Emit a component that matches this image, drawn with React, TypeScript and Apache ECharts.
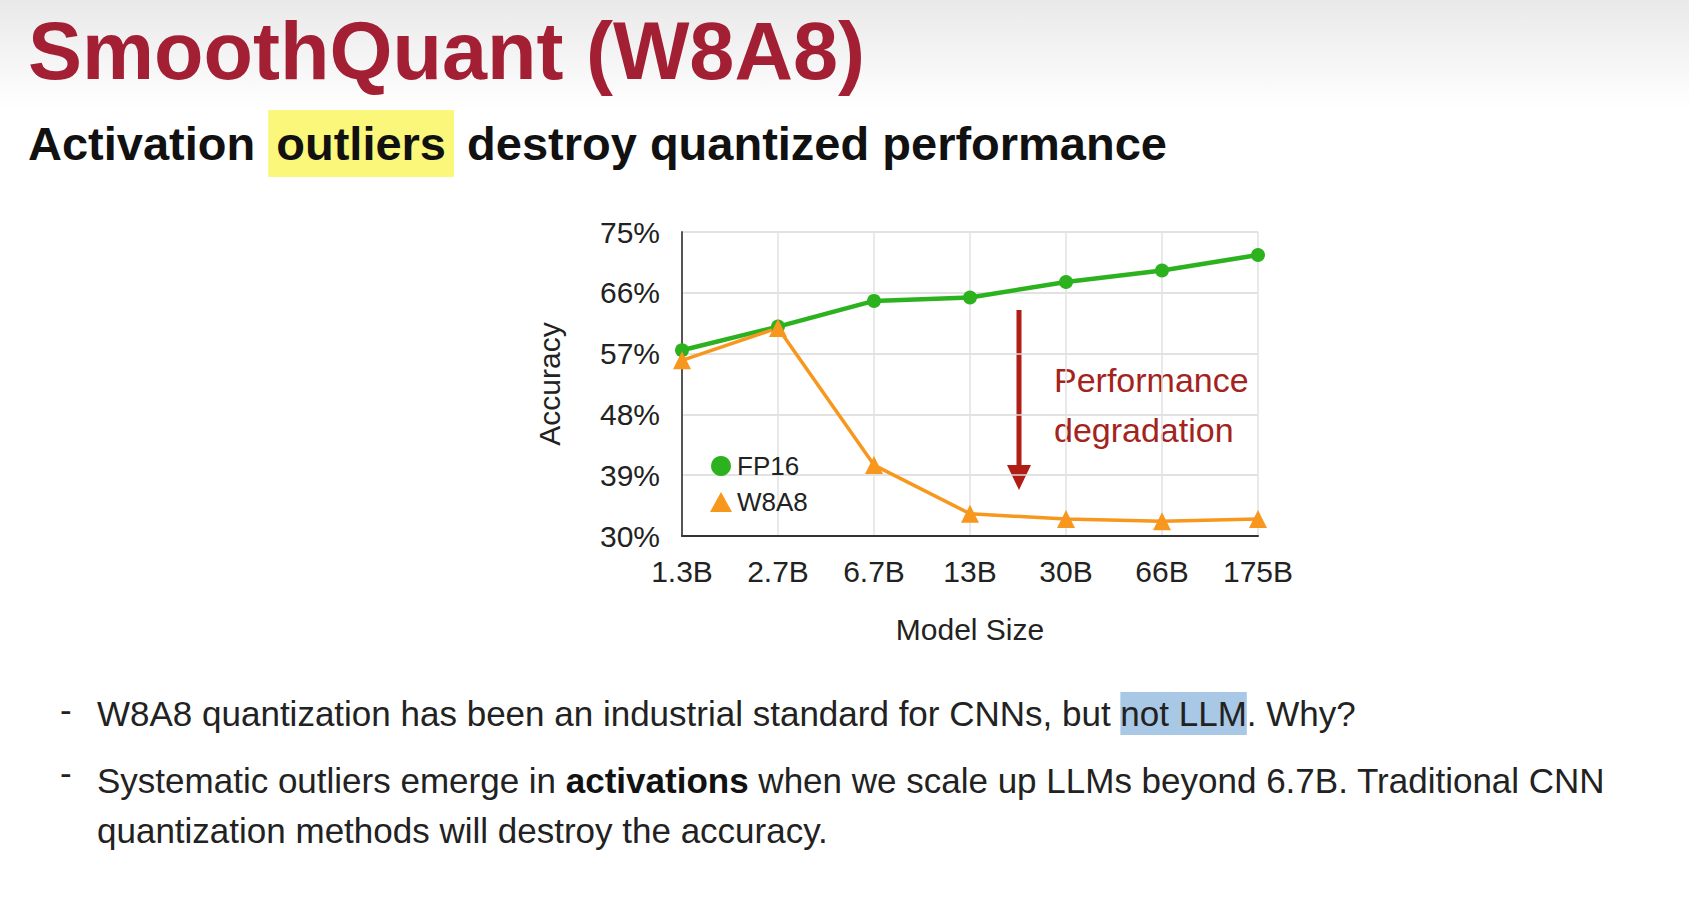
import * as echarts from "echarts";
import { useEffect, useRef } from "react";

const modelSizes = ["1.3B", "2.7B", "6.7B", "13B", "30B", "66B", "175B"];
const fp16 = [57.5, 61, 64.8, 65.3, 67.6, 69.3, 71.6];
const w8a8 = [56, 60.8, 40.5, 33.3, 32.5, 32.2, 32.5];
const yTicks = [30, 39, 48, 57, 66, 75];

const FONT = "Liberation Sans, Arial, sans-serif";

const App: React.FC = () => {
    const chartRef = useRef<HTMLDivElement>(null);

    useEffect(() => {
        const chart = echarts.init(chartRef.current!, undefined, { renderer: "svg" });

        const option = {
            animation: false,
            backgroundColor: "#ffffff",
            textStyle: { fontFamily: FONT },
            grid: { left: 682, top: 232, width: 576, height: 304 },
            legend: {
                left: 705,
                top: 448,
                orient: "vertical",
                itemGap: 10,
                itemWidth: 22,
                itemHeight: 20,
                textStyle: { fontSize: 26, color: "#222", fontFamily: FONT },
                data: [
                    { name: "FP16", icon: "circle" },
                    { name: "W8A8", icon: "triangle" },
                ],
            },
            xAxis: {
                type: "category",
                data: modelSizes,
                boundaryGap: false,
                name: "Model Size",
                nameLocation: "middle",
                nameGap: 78,
                nameTextStyle: { fontSize: 30, color: "#222" },
                axisLine: { lineStyle: { color: "#333", width: 2 } },
                axisTick: { show: false },
                axisLabel: { fontSize: 30, color: "#222", margin: 20 },
                splitLine: { show: true, lineStyle: { color: "#e2e2e2", width: 1.5 } },
            },
            yAxis: {
                type: "value",
                min: yTicks[0],
                max: yTicks[yTicks.length - 1],
                interval: 9,
                name: "Accuracy",
                nameLocation: "middle",
                nameGap: 118,
                nameTextStyle: { fontSize: 30, color: "#222" },
                axisLine: { show: true, lineStyle: { color: "#555", width: 2 } },
                axisTick: { show: false },
                axisLabel: { fontSize: 30, color: "#222", margin: 22, formatter: "{value}%" },
                splitLine: { lineStyle: { color: "#d8d8d8", width: 1.5 } },
            },
            series: [
                {
                    name: "FP16",
                    type: "line",
                    data: fp16,
                    symbol: "circle",
                    symbolSize: 14,
                    color: "#2db21f",
                    lineStyle: { width: 4.5 },
                },
                {
                    name: "W8A8",
                    type: "line",
                    data: w8a8,
                    symbol: "triangle",
                    symbolSize: 18,
                    color: "#f7971e",
                    lineStyle: { width: 3.5 },
                },
            ],
            graphic: [
                {
                    type: "rect",
                    left: 0,
                    top: 0,
                    shape: { width: 1689, height: 110 },
                    style: {
                        fill: new echarts.graphic.LinearGradient(0, 0, 0, 1, [
                            { offset: 0, color: "#e9e9e9" },
                            { offset: 1, color: "#ffffff" },
                        ]),
                    },
                    z: -10,
                },
                {
                    type: "text",
                    left: 28,
                    top: 10,
                    style: {
                        text: "SmoothQuant (W8A8)",
                        fill: "#a31f34",
                        font: "bold 81px " + FONT,
                    },
                },
                {
                    type: "text",
                    left: 28,
                    top: 110,
                    style: {
                        text: "Activation {h|outliers} destroy quantized performance",
                        fill: "#111",
                        font: "bold 47px " + FONT,
                        rich: {
                            h: {
                                backgroundColor: "#fbf77a",
                                padding: [10, 8, 10, 8],
                                fontWeight: "bold",
                                fontSize: 47,
                                fontFamily: FONT,
                                fill: "#111",
                            },
                        },
                    },
                },
                {
                    type: "line",
                    shape: { x1: 1019, y1: 310, x2: 1019, y2: 468 },
                    style: { stroke: "#b01d15", lineWidth: 5 },
                },
                {
                    type: "polygon",
                    shape: { points: [[1007, 465], [1031, 465], [1019, 490]] },
                    style: { fill: "#b01d15" },
                },
                {
                    type: "text",
                    left: 1054,
                    top: 355,
                    style: {
                        text: "Performance\ndegradation",
                        fill: "#a3231d",
                        font: "34px " + FONT,
                        lineHeight: 50,
                    },
                },
                {
                    type: "text",
                    left: 60,
                    top: 692,
                    style: { text: "-", fill: "#222", font: "35px " + FONT },
                },
                {
                    type: "text",
                    left: 97,
                    top: 692,
                    style: {
                        text: "W8A8 quantization has been an industrial standard for CNNs, but {h|not LLM}. Why?",
                        fill: "#222",
                        font: "35px " + FONT,
                        rich: {
                            h: {
                                backgroundColor: "#a9c8e6",
                                padding: [4, 0, 4, 0],
                                fontSize: 35,
                                fontFamily: FONT,
                                fill: "#222",
                            },
                        },
                    },
                },
                {
                    type: "text",
                    left: 60,
                    top: 755,
                    style: { text: "-", fill: "#222", font: "35px " + FONT },
                },
                {
                    type: "text",
                    left: 97,
                    top: 755,
                    style: {
                        text: "Systematic outliers emerge in {b|activations} when we scale up LLMs beyond 6.7B. Traditional CNN\nquantization methods will destroy the accuracy.",
                        fill: "#222",
                        font: "35px " + FONT,
                        lineHeight: 50,
                        rich: { b: { fontWeight: "bold", fontSize: 35, fontFamily: FONT, fill: "#111" } },
                    },
                },
            ],
        };

        chart.setOption(option);

        return () => {
            chart.dispose();
        };
    }, []);

    return (
        <div
            ref={chartRef}
            style={{ position: "absolute", left: 0, top: 0, width: "1689px", height: "897px" }}
        />
    );
};

export default App;
